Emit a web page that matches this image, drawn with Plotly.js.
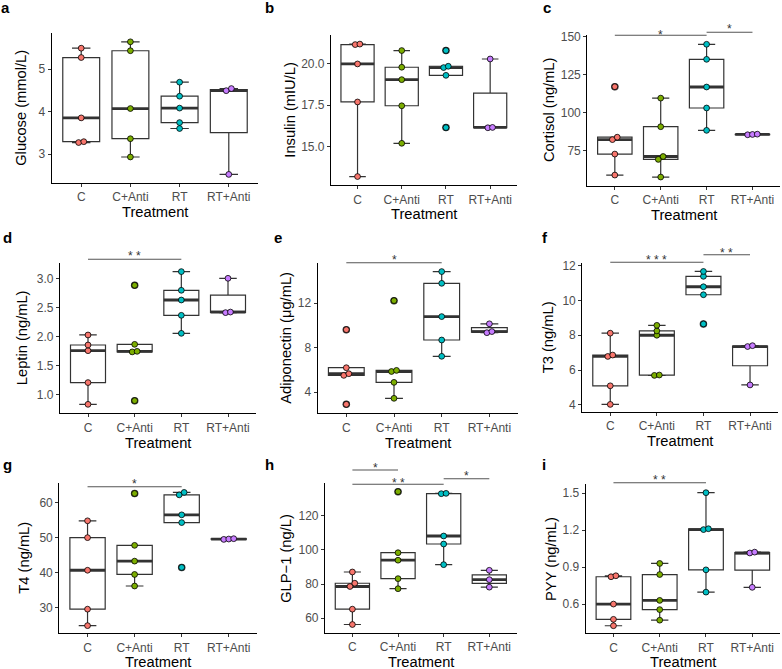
<!DOCTYPE html>
<html><head><meta charset="utf-8">
<script src="https://cdn.plot.ly/plotly-3.0.1.min.js"></script>
<style>html,body{margin:0;padding:0;background:#fff}#chart{width:782px;height:669px}</style>
</head><body><div id="chart"></div>
<script>
// ---------- data ----------
const categories = ['C', 'C+Anti', 'RT', 'RT+Anti'];
const groupColors = ['#F8766D', '#7CAE00', '#00BFC4', '#C77CFF'];
const panelLabels = ['a', 'b', 'c', 'd', 'e', 'f', 'g', 'h', 'i'];
const yTitles = ['Glucose (mmol/L)', 'Insulin (mIU/L)', 'Cortisol (ng/mL)', 'Leptin (ng/mL)',
  'Adiponectin (μg/mL)', 'T3 (ng/mL)', 'T4 (ng/mL)', 'GLP−1 (ng/L)', 'PYY (ng/mL)'];
const xTitle = 'Treatment';

// values per group: C, C+Anti, RT, RT+Anti
const glucose = [[3.27, 3.29, 3.85, 5.27, 5.49], [2.93, 3.36, 4.07, 5.43, 5.64], [3.60, 3.74, 4.08, 4.36, 4.69], [2.52, 4.49, 4.54]];
const insulin = [[13.19, 17.70, 20.0, 21.17, 21.20], [15.2, 17.47, 19.05, 19.8, 20.81], [16.15, 19.31, 19.78, 19.86, 20.81], [16.14, 16.16, 20.3]];
const cortisol = [[59.0, 72.8, 82.3, 83.9, 117.1], [57.7, 69.3, 71.2, 90.8, 109.6], [88.4, 103.1, 116.9, 135.1, 145.0], [85.5, 85.7, 85.9]];
const leptin = [[0.834, 1.208, 1.756, 1.854, 2.026], [0.897, 1.735, 1.745, 1.865, 2.88], [2.054, 2.364, 2.627, 2.794, 3.115], [2.41, 2.42, 3.0]];
const adiponectin = [[2.89, 5.5, 5.65, 6.19, 9.62], [3.43, 4.87, 5.85, 5.95, 12.24], [7.22, 8.69, 10.8, 13.8, 14.86], [9.35, 9.45, 10.15]];
const t3 = [[4.02, 5.09, 6.78, 6.86, 8.12], [5.69, 5.71, 8.0, 8.25, 8.57], [8.65, 10.33, 10.79, 11.39, 11.67], [5.14, 7.35, 7.40]];
const t4 = [[24.9, 29.6, 40.7, 50.0, 54.8], [36.2, 39.5, 43.3, 47.8, 62.6], [41.5, 54.3, 56.5, 62.2, 62.9], [49.5, 49.6, 49.7]];
const glp1 = [[56.3, 65.3, 78.6, 80.5, 87.1], [77.3, 83.2, 94.0, 98.4, 134.2], [91.4, 103.5, 108.2, 133.0, 133.2], [78.2, 82.6, 88.1]];
const pyy = [[0.424, 0.476, 0.60, 0.822, 0.830], [0.469, 0.555, 0.63, 0.84, 0.93], [0.697, 0.878, 1.205, 1.212, 1.505], [0.736, 1.015, 1.022]];

// tick values and labels
const glucoseTicks = [3, 4, 5], glucoseTickText = ['3', '4', '5'];
const insulinTicks = [15, 17.5, 20], insulinTickText = ['15.0', '17.5', '20.0'];
const cortisolTicks = [75, 100, 125, 150], cortisolTickText = ['75', '100', '125', '150'];
const leptinTicks = [1, 1.5, 2, 2.5, 3], leptinTickText = ['1.0', '1.5', '2.0', '2.5', '3.0'];
const adiponectinTicks = [4, 8, 12], adiponectinTickText = ['4', '8', '12'];
const t3Ticks = [4, 6, 8, 10, 12], t3TickText = ['4', '6', '8', '10', '12'];
const t4Ticks = [30, 40, 50, 60], t4TickText = ['30', '40', '50', '60'];
const glp1Ticks = [60, 80, 100, 120], glp1TickText = ['60', '80', '100', '120'];
const pyyTicks = [0.6, 0.9, 1.2, 1.5], pyyTickText = ['0.6', '0.9', '1.2', '1.5'];

// significance comparisons: [group from, group to, label]
const glucoseSig = [], insulinSig = [];
const cortisolSig = [[0, 2, '*'], [2, 3, '*']];
const leptinSig = [[0, 2, '* *']];
const adiponectinSig = [[0, 2, '*']];
const t3Sig = [[0, 2, '* * *'], [2, 3, '* *']];
const t4Sig = [[0, 2, '*']];
const glp1Sig = [[0, 1, '*'], [0, 2, '* *'], [2, 3, '*']];
const pyySig = [[0, 2, '* *']];

// ---------- layout constants (pixels) ----------
const W = 782, H = 669;
const FONT = 'Liberation Sans, Arial, sans-serif';
const plotBoxes = [ // left, top, right, bottom
  [51.7, 33.3, 258.3, 182.7], [331, 35, 516.7, 185.3], [587.3, 35, 780, 185.7],
  [60, 262.7, 256, 413.3], [317.7, 262.7, 518, 413.3], [582.3, 263.3, 778, 411.7],
  [59.3, 483.3, 257, 633], [325, 483.3, 516.7, 632.7], [585.7, 484.3, 780, 633]];
const yRanges = [[2.325, 5.84], [12.66, 21.75], [52.0, 151.1], [0.68, 3.268], [2.08, 15.66],
  [3.60, 12.14], [22.8, 65.5], [51.5, 139.1], [0.365, 1.573]];
const yTitleX = [20.8, 290.5, 549.7, 22.2, 285.8, 547.8, 24.5, 285.8, 550.3];
const xTitleGap = 29.2; // px from x-axis line to title centre
const labelPos = [[0, 7.8], [264, 7.8], [541.7, 7.8], [1.7, 237.2], [273.3, 237.2], [540.7, 237.2],
  [1.7, 464.8], [264, 464.8], [540.7, 464.8]];
// significance bar line y and star centre y (pixels), per comparison
const sigPix = [[], [], [[35.3, 31.7], [32.3, 26]], [[259.3, 253.3]], [[262.7, 256.7]],
  [[262.3, 256.7], [254.7, 250]], [[486.7, 480.7]], [[470, 465], [484.3, 480], [478.7, 473.3]], [[482.7, 477.3]]];

const panelData = [glucose, insulin, cortisol, leptin, adiponectin, t3, t4, glp1, pyy];
const panelTicks = [glucoseTicks, insulinTicks, cortisolTicks, leptinTicks, adiponectinTicks, t3Ticks, t4Ticks, glp1Ticks, pyyTicks];
const panelTickText = [glucoseTickText, insulinTickText, cortisolTickText, leptinTickText, adiponectinTickText, t3TickText, t4TickText, glp1TickText, pyyTickText];
const panelSig = [glucoseSig, insulinSig, cortisolSig, leptinSig, adiponectinSig, t3Sig, t4Sig, glp1Sig, pyySig];

const BOXW = 0.75, STEP = 0.105;

function median(a) {
  const s = a.slice().sort((x, y) => x - y), n = s.length;
  return n % 2 ? s[(n - 1) / 2] : (s[n / 2 - 1] + s[n / 2]) / 2;
}
function dodge(vals, tol, step) {
  const idx = vals.map((v, i) => i).sort((a, b) => vals[a] - vals[b]);
  const off = new Array(vals.length).fill(0);
  let k = 0;
  while (k < idx.length) {
    let j = k;
    while (j + 1 < idx.length && vals[idx[j + 1]] - vals[idx[k]] < tol) j++;
    const n = j - k + 1;
    for (let m = 0; m < n; m++) off[idx[k + m]] = (m - (n - 1) / 2) * step;
    k = j + 1;
  }
  return off;
}

const traces = [], shapes = [], annotations = [];
const layout = {
  width: W, height: H, margin: {l: 0, r: 0, t: 0, b: 0},
  paper_bgcolor: '#fff', plot_bgcolor: '#fff', showlegend: false,
  font: {family: FONT, color: '#000'}, boxmode: 'overlay'
};

panelData.forEach((groups, p) => {
  const k = p + 1;
  const xid = k === 1 ? 'x' : 'x' + k, yid = k === 1 ? 'y' : 'y' + k;
  const [l, t, r, b] = plotBoxes[p];
  const yr = yRanges[p];
  const axCommon = {
    showline: true, linecolor: '#000', linewidth: 1.1, ticks: 'outside', ticklen: 3,
    tickwidth: 1, tickcolor: '#333', showgrid: false, zeroline: false, fixedrange: true,
    tickfont: {size: 12, color: '#4d4d4d', family: FONT}
  };
  layout['xaxis' + (k === 1 ? '' : k)] = Object.assign({}, axCommon, {
    domain: [l / W, r / W], range: [-0.6, 3.6], anchor: yid,
    tickmode: 'array', tickvals: categories.map((c, i) => i), ticktext: categories
  });
  layout['yaxis' + (k === 1 ? '' : k)] = Object.assign({}, axCommon, {
    domain: [1 - b / H, 1 - t / H], range: yr, anchor: xid,
    tickmode: 'array', tickvals: panelTicks[p], ticktext: panelTickText[p]
  });

  const tol = 0.025 * (yr[1] - yr[0]);
  // boxes
  groups.forEach((vals, g) => {
    traces.push({
      type: 'box', x: vals.map(() => g), y: vals, xaxis: xid, yaxis: yid,
      width: BOXW, quartilemethod: 'inclusive', boxpoints: 'outliers', jitter: 0, pointpos: 0,
      fillcolor: '#ffffff', line: {color: '#333333', width: 1.2},
      marker: {color: '#333333', size: 7.5, line: {width: 0}},
      hoverinfo: 'skip'
    });
  });
  // thick medians
  groups.forEach((vals, g) => {
    const m = median(vals);
    traces.push({
      type: 'scatter', mode: 'lines', x: [g - BOXW / 2, g + BOXW / 2], y: [m, m],
      xaxis: xid, yaxis: yid, line: {color: '#333333', width: 2.8}, hoverinfo: 'skip'
    });
  });
  // points
  groups.forEach((vals, g) => {
    const off = dodge(vals, tol, STEP);
    traces.push({
      type: 'scatter', mode: 'markers', x: vals.map((v, i) => g + off[i]), y: vals,
      xaxis: xid, yaxis: yid, cliponaxis: false,
      marker: {color: groupColors[g], size: 5.8, line: {color: '#000', width: 0.8}},
      hoverinfo: 'y'
    });
  });
  // significance bars
  panelSig[p].forEach((s, j) => {
    const [linePy, starPy] = sigPix[p][j];
    const yl = (b - linePy) / (b - t);
    const ys = (b - (starPy + 3)) / (b - t);
    shapes.push({
      type: 'line', xref: xid, yref: yid + ' domain', x0: s[0], x1: s[1], y0: yl, y1: yl,
      line: {color: '#555555', width: 1.1}
    });
    annotations.push({
      xref: xid, yref: yid + ' domain', x: (s[0] + s[1]) / 2, y: ys, text: s[2],
      showarrow: false, xanchor: 'center', yanchor: 'middle', borderpad: 0,
      font: {size: 12, color: '#333', family: FONT}
    });
  });
  // axis titles
  annotations.push({
    xref: 'paper', yref: 'paper', x: ((l + r) / 2) / W, y: 1 - (b + xTitleGap) / H, text: xTitle,
    showarrow: false, xanchor: 'center', yanchor: 'middle', borderpad: 0,
    font: {size: 14.7, color: '#000', family: FONT}
  });
  annotations.push({
    xref: 'paper', yref: 'paper', x: yTitleX[p] / W, y: 1 - ((t + b) / 2) / H, text: yTitles[p],
    textangle: -90, showarrow: false, xanchor: 'center', yanchor: 'middle', borderpad: 0,
    font: {size: 14.7, color: '#000', family: FONT}
  });
  // panel label
  annotations.push({
    xref: 'paper', yref: 'paper', x: labelPos[p][0] / W, y: 1 - labelPos[p][1] / H,
    text: '<b>' + panelLabels[p] + '</b>', showarrow: false, xanchor: 'left', yanchor: 'middle',
    borderpad: 0, font: {size: 15, color: '#000', family: FONT}
  });
});

layout.shapes = shapes;
layout.annotations = annotations;
Plotly.newPlot('chart', traces, layout, {staticPlot: true, displayModeBar: false});
</script>
</body></html>
